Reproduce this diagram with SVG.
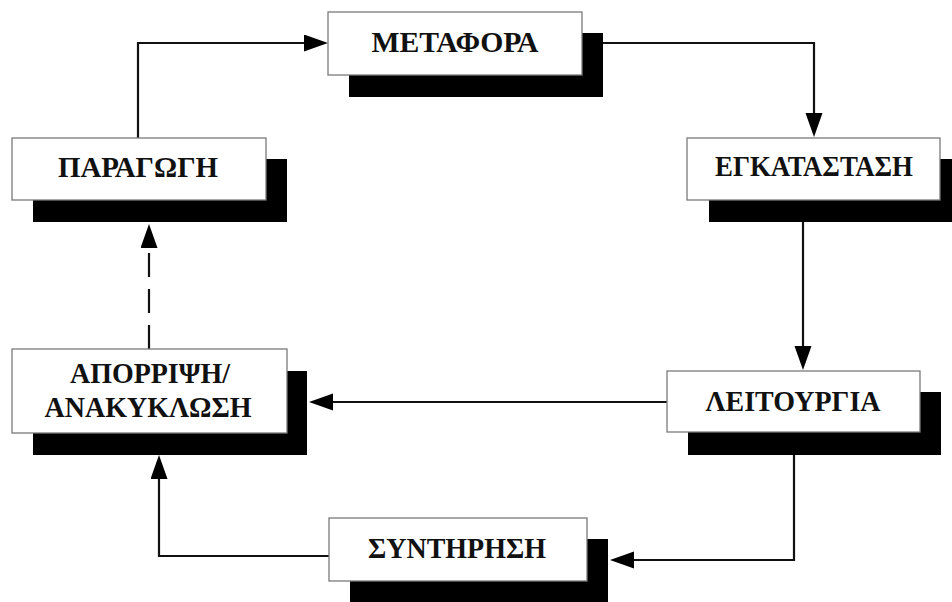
<svg xmlns="http://www.w3.org/2000/svg" width="952" height="602" viewBox="0 0 952 602">
  <defs>
    <style>
      .shadow { fill: #000; }
      .box { fill: #fff; stroke: #7a7a7a; stroke-width: 1.3; }
      .label { font-family: "Liberation Serif", "Times New Roman", serif; font-weight: bold; font-size: 28.5px; fill: #111; text-anchor: middle; }
      .link { fill: none; stroke: #111; stroke-width: 2.2; }
      .dashed { stroke-dasharray: 24 12; }
    </style>
    <marker id="arrow" markerUnits="userSpaceOnUse" markerWidth="25" markerHeight="18" refX="0" refY="8.5" orient="auto">
      <path d="M0,0 L24,8.5 L0,17 Z" fill="#000"/>
    </marker>
  </defs>
  <rect width="952" height="602" fill="#fff"/>

  <!-- connectors -->
  <g id="connectors">
    <path class="link" d="M138,138 V43 H304" marker-end="url(#arrow)"/>
    <path class="link" d="M582,43 H814 V113" marker-end="url(#arrow)"/>
    <path class="link" d="M803,200 V346" marker-end="url(#arrow)"/>
    <path class="link" d="M794,432 V560 H634" marker-end="url(#arrow)"/>
    <path class="link" d="M667,402 H333" marker-end="url(#arrow)"/>
    <path class="link" d="M329,556 H159 V479" marker-end="url(#arrow)"/>
    <path class="link dashed" d="M149,349 V248" marker-end="url(#arrow)"/>
  </g>

  <!-- nodes: shadow, box, label -->
  <g id="metafora">
    <rect class="shadow" x="349" y="33" width="254" height="64"/>
    <rect class="box" x="328" y="12" width="254" height="63"/>
    <text class="label" x="455" y="52" textLength="167" lengthAdjust="spacingAndGlyphs">ΜΕΤΑΦΟΡΑ</text>
  </g>
  <g id="paragogi">
    <rect class="shadow" x="33" y="159" width="254" height="63"/>
    <rect class="box" x="12" y="138" width="254" height="62"/>
    <text class="label" x="138" y="177" textLength="160" lengthAdjust="spacingAndGlyphs">ΠΑΡΑΓΩΓΗ</text>
  </g>
  <g id="egkatastasi">
    <rect class="shadow" x="709" y="159" width="254" height="63"/>
    <rect class="box" x="687" y="138" width="253" height="62"/>
    <text class="label" x="814" y="176" textLength="198" lengthAdjust="spacingAndGlyphs">ΕΓΚΑΤΑΣΤΑΣΗ</text>
  </g>
  <g id="leitourgia">
    <rect class="shadow" x="688" y="392" width="253" height="63"/>
    <rect class="box" x="667" y="371" width="253" height="61"/>
    <text class="label" x="793" y="411" textLength="175" lengthAdjust="spacingAndGlyphs">ΛΕΙΤΟΥΡΓΙΑ</text>
  </g>
  <g id="syntirisi">
    <rect class="shadow" x="350" y="539" width="258" height="63"/>
    <rect class="box" x="329" y="518" width="258" height="63"/>
    <text class="label" x="457" y="558" textLength="178" lengthAdjust="spacingAndGlyphs">ΣΥΝΤΗΡΗΣΗ</text>
  </g>
  <g id="aporripsi">
    <rect class="shadow" x="33" y="371" width="274" height="84"/>
    <rect class="box" x="12" y="349" width="275" height="84"/>
    <text class="label" x="150" y="383" textLength="160" lengthAdjust="spacingAndGlyphs">ΑΠΟΡΡΙΨΗ/</text>
    <text class="label" x="148" y="417" textLength="207" lengthAdjust="spacingAndGlyphs">ΑΝΑΚΥΚΛΩΣΗ</text>
  </g>
</svg>
